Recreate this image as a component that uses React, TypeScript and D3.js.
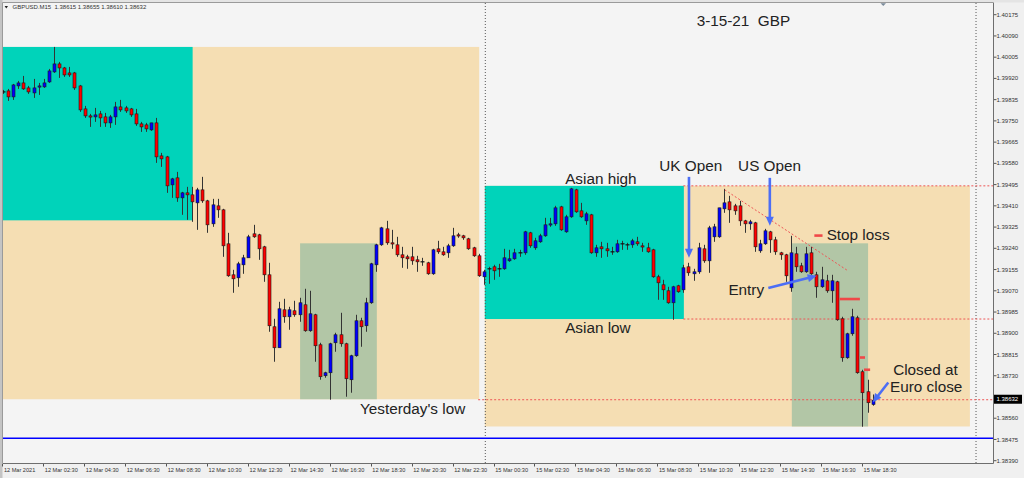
import React from "react";
import * as d3 from "d3";

// ---- GBPUSD M15 candles (12 Mar 00:30 -> 15 Mar 18:45) ----
const candleOpen = [
  1.39866,1.39870,1.39846,1.39890,1.39902,1.39882,1.39862,1.39886,1.39886,1.39906,
  1.39946,1.39978,1.39962,1.39942,1.39942,1.39890,1.39798,1.39770,1.39766,1.39778,
  1.39766,1.39742,1.39766,1.39806,1.39802,1.39798,1.39778,1.39738,1.39734,1.39714,
  1.39742,1.39610,1.39606,1.39494,1.39522,1.39442,1.39462,1.39454,1.39422,1.39474,
  1.39430,1.39338,1.39410,1.39394,1.39258,1.39134,1.39122,1.39174,1.39202,1.39298,
  1.39294,1.39246,1.39134,1.38926,1.38842,1.38994,1.38966,1.38990,1.38974,1.39014,
  1.38910,1.38974,1.38854,1.38730,1.38742,1.38862,1.38894,1.38858,1.38714,1.38810,
  1.38950,1.38930,1.39022,1.39174,1.39254,1.39318,1.39262,1.39254,1.39214,1.39206,
  1.39206,1.39194,1.39186,1.39182,1.39138,1.39238,1.39226,1.39222,1.39250,1.39294,
  1.39290,1.39278,1.39242,1.39210,1.39126,1.39158,1.39166,1.39158,1.39158,1.39190,
  1.39198,1.39222,1.39222,1.39302,1.39242,1.39266,1.39290,1.39334,1.39338,1.39406,
  1.39306,1.39366,1.39474,1.39390,1.39350,1.39374,1.39222,1.39246,1.39238,1.39226,
  1.39226,1.39258,1.39254,1.39254,1.39266,1.39250,1.39242,1.39234,1.39126,1.39094,
  1.39070,1.39022,1.39090,1.39074,1.39166,1.39138,1.39146,1.39238,1.39190,1.39286,
  1.39286,1.39398,1.39426,1.39410,1.39410,1.39350,1.39338,1.39342,1.39230,1.39258,
  1.39306,1.39274,1.39222,1.39214,1.39082,1.39218,1.39170,1.39146,1.39222,1.39134,
  1.39086,1.39110,1.39070,1.39106,1.38958,1.38802,1.38898,1.38962,1.38746,1.38666,
  1.38615,
];
const candleHigh = [
  1.39874,1.39878,1.39898,1.39910,1.39930,1.39890,1.39918,1.39902,1.39918,1.39958,
  1.40046,1.39986,1.39966,1.39966,1.39946,1.39894,1.39810,1.39778,1.39802,1.39790,
  1.39782,1.39774,1.39826,1.39834,1.39810,1.39802,1.39798,1.39746,1.39742,1.39742,
  1.39762,1.39622,1.39610,1.39522,1.39546,1.39466,1.39486,1.39486,1.39482,1.39526,
  1.39434,1.39438,1.39438,1.39398,1.39302,1.39154,1.39186,1.39214,1.39294,1.39334,
  1.39298,1.39250,1.39182,1.38958,1.39026,1.39038,1.39006,1.39030,1.39042,1.39078,
  1.39070,1.38978,1.38862,1.38746,1.38862,1.38902,1.38982,1.38862,1.38814,1.38974,
  1.38962,1.39042,1.39182,1.39258,1.39326,1.39350,1.39314,1.39286,1.39246,1.39214,
  1.39246,1.39210,1.39202,1.39186,1.39238,1.39270,1.39246,1.39258,1.39322,1.39302,
  1.39294,1.39282,1.39246,1.39218,1.39154,1.39166,1.39174,1.39178,1.39238,1.39234,
  1.39238,1.39234,1.39310,1.39306,1.39282,1.39298,1.39362,1.39362,1.39410,1.39410,
  1.39374,1.39482,1.39478,1.39422,1.39386,1.39378,1.39254,1.39266,1.39262,1.39246,
  1.39274,1.39270,1.39262,1.39278,1.39286,1.39262,1.39262,1.39238,1.39134,1.39114,
  1.39086,1.39090,1.39094,1.39174,1.39182,1.39158,1.39262,1.39254,1.39330,1.39338,
  1.39402,1.39478,1.39450,1.39418,1.39430,1.39354,1.39354,1.39346,1.39274,1.39318,
  1.39310,1.39286,1.39226,1.39218,1.39290,1.39246,1.39182,1.39246,1.39246,1.39146,
  1.39166,1.39134,1.39134,1.39110,1.38966,1.38902,1.38998,1.38970,1.38754,1.38714,
  1.38655,
];
const candleLow = [
  1.39858,1.39830,1.39834,1.39878,1.39874,1.39858,1.39842,1.39854,1.39882,1.39902,
  1.39942,1.39922,1.39926,1.39926,1.39874,1.39786,1.39762,1.39726,1.39746,1.39726,
  1.39726,1.39722,1.39734,1.39786,1.39782,1.39766,1.39730,1.39706,1.39706,1.39710,
  1.39582,1.39566,1.39462,1.39442,1.39426,1.39374,1.39354,1.39346,1.39314,1.39422,
  1.39302,1.39326,1.39362,1.39206,1.39126,1.39062,1.39086,1.39138,1.39202,1.39282,
  1.39194,1.39106,1.38906,1.38786,1.38842,1.38942,1.38914,1.38966,1.38946,1.38906,
  1.38906,1.38786,1.38714,1.38722,1.38634,1.38826,1.38846,1.38646,1.38662,1.38806,
  1.38846,1.38906,1.39018,1.39146,1.39250,1.39254,1.39238,1.39206,1.39162,1.39158,
  1.39174,1.39146,1.39170,1.39134,1.39134,1.39218,1.39210,1.39202,1.39246,1.39282,
  1.39274,1.39234,1.39206,1.39126,1.39094,1.39098,1.39114,1.39126,1.39154,1.39186,
  1.39194,1.39206,1.39214,1.39242,1.39234,1.39262,1.39286,1.39326,1.39330,1.39310,
  1.39302,1.39362,1.39382,1.39362,1.39334,1.39218,1.39206,1.39202,1.39206,1.39214,
  1.39222,1.39234,1.39234,1.39242,1.39250,1.39226,1.39222,1.39122,1.39034,1.39034,
  1.39018,1.38954,1.39062,1.39062,1.39130,1.39110,1.39138,1.39182,1.39142,1.39266,
  1.39282,1.39382,1.39342,1.39374,1.39330,1.39302,1.39314,1.39226,1.39222,1.39254,
  1.39222,1.39214,1.39194,1.39106,1.39066,1.39146,1.39142,1.39142,1.39134,1.39042,
  1.39082,1.39062,1.39022,1.38950,1.38786,1.38798,1.38890,1.38738,1.38526,1.38582,
  1.38610,
];
const candleClose = [
  1.39866,1.39846,1.39894,1.39902,1.39878,1.39866,1.39882,1.39890,1.39902,1.39950,
  1.39978,1.39962,1.39934,1.39934,1.39882,1.39794,1.39770,1.39766,1.39774,1.39762,
  1.39742,1.39766,1.39806,1.39794,1.39790,1.39774,1.39738,1.39726,1.39718,1.39742,
  1.39606,1.39598,1.39490,1.39518,1.39442,1.39462,1.39454,1.39426,1.39474,1.39430,
  1.39334,1.39414,1.39394,1.39250,1.39130,1.39118,1.39178,1.39202,1.39286,1.39286,
  1.39238,1.39134,1.38930,1.38842,1.38998,1.38966,1.38994,1.38974,1.39022,1.38910,
  1.38978,1.38850,1.38726,1.38742,1.38858,1.38894,1.38858,1.38718,1.38810,1.38950,
  1.38926,1.39022,1.39178,1.39254,1.39322,1.39262,1.39258,1.39214,1.39202,1.39198,
  1.39190,1.39186,1.39186,1.39138,1.39234,1.39226,1.39214,1.39250,1.39290,1.39290,
  1.39282,1.39238,1.39210,1.39130,1.39146,1.39158,1.39150,1.39158,1.39202,1.39198,
  1.39222,1.39222,1.39306,1.39250,1.39270,1.39290,1.39334,1.39338,1.39402,1.39314,
  1.39366,1.39478,1.39386,1.39366,1.39378,1.39222,1.39242,1.39238,1.39230,1.39226,
  1.39258,1.39258,1.39254,1.39270,1.39258,1.39246,1.39226,1.39126,1.39102,1.39074,
  1.39022,1.39086,1.39066,1.39162,1.39142,1.39146,1.39242,1.39190,1.39322,1.39326,
  1.39402,1.39422,1.39394,1.39390,1.39350,1.39338,1.39346,1.39246,1.39258,1.39310,
  1.39274,1.39226,1.39214,1.39130,1.39222,1.39166,1.39146,1.39218,1.39138,1.39086,
  1.39114,1.39070,1.39110,1.38954,1.38802,1.38898,1.38966,1.38742,1.38662,1.38622,
  1.38632,
];

// ---- axis ticks ----
const priceTicks = [
  1.40175, 1.40090, 1.40005, 1.39920, 1.39835, 1.39750, 1.39665, 1.39580, 1.39495,
  1.39410, 1.39325, 1.39240, 1.39155, 1.39070, 1.38985, 1.38900, 1.38815, 1.38730,
  1.38645, 1.38560, 1.38475, 1.38390,
];
const timeTickBars = [0, 8, 16, 24, 32, 40, 48, 56, 64, 72, 80, 88, 96, 104, 112, 120, 128, 136, 144, 152, 160, 168];
const timeTickLabels = [
  "12 Mar 2021", "12 Mar 02:30", "12 Mar 04:30", "12 Mar 06:30", "12 Mar 08:30", "12 Mar 10:30",
  "12 Mar 12:30", "12 Mar 14:30", "12 Mar 16:30", "12 Mar 18:30", "12 Mar 20:30", "12 Mar 22:30",
  "15 Mar 00:30", "15 Mar 02:30", "15 Mar 04:30", "15 Mar 06:30", "15 Mar 08:30", "15 Mar 10:30",
  "15 Mar 12:30", "15 Mar 14:30", "15 Mar 16:30", "15 Mar 18:30",
];
const separatorBars = [94.1, 190];

// ---- session boxes (bar index range, price range) ----
const zoneStart = [-3, -3, 58, 94.1, 94.1, 154.1];
const zoneEnd = [93, 37, 73, 188.9, 133, 169];
const zoneHigh = [1.40046, 1.40046, 1.3926, 1.3949, 1.3949, 1.3926];
const zoneLow = [1.38636, 1.39352, 1.38636, 1.38527, 1.38957, 1.38527];
const zoneKind = ["day", "asia", "box", "day", "asia", "box"];

// ---- levels ----
const levelPrice = [1.3949, 1.38957, 1.38634];
const levelFrom = [132.9, 132.9, 92.8];
const blueLinePrice = 1.3848;
const lastPrice = 1.38632;

// ---- annotations ----
const labelText = ["3-15-21  GBP", "Asian high", "UK Open", "US Open", "Stop loss", "Entry", "Asian low", "Yesterday's low", "Closed at", "Euro close"];
const labelBar = [135.5, 109.8, 128.2, 143.6, 160.9, 141.7, 109.8, 69.7, 173.9, 173.3];
const labelPrice = [1.40131, 1.39498, 1.39550, 1.39551, 1.39274, 1.39054, 1.38902, 1.38578, 1.38734, 1.38664];

const arrowFromBar = [134.0, 149.8, 149.5, 172.95];
const arrowFromPrice = [1.39526, 1.39522, 1.39081, 1.38703];
const arrowToBar = [134.0, 149.8, 158.96, 169.9];
const arrowToPrice = [1.39202, 1.3933, 1.3913, 1.38623];

const trendBars = [141.0, 165.0];
const trendPrices = [1.39474, 1.39151];

const markFromBar = [158.5, 163.4, 167.4, 168.2];
const markToBar = [160.1, 167.4, 168.4, 169.4];
const markPrice = [1.39291, 1.39037, 1.38803, 1.38754];

const PL = 3, PR = 993, PT = 3, PB = 463;
const FONT = "'Liberation Sans', Arial, sans-serif";

const zoneColor: Record<string, string> = { day: "#F5DEB3", asia: "#00D3BA", box: "#B2C6A6" };

export default function App() {
  const x = d3.scaleLinear().domain([0, 168]).range([3.3, 3.3 + 5.117 * 168]);
  const y = d3.scaleLinear().domain([1.40175, 1.3839]).range([14.7, 460.7]);
  const arrowColor = "#4C6EF5";
  const boxTop = y(lastPrice) - 5.5;
  const boxBot = boxTop + 9;

  const arrows = arrowFromBar.map((_, k) => {
    const x1 = x(arrowFromBar[k]), y1 = y(arrowFromPrice[k]);
    const x2 = x(arrowToBar[k]), y2 = y(arrowToPrice[k]);
    const dx = x2 - x1, dy = y2 - y1;
    const len = Math.hypot(dx, dy);
    const ux = dx / len, uy = dy / len;
    const hl = 9, hw = 4;
    const bx = x2 - ux * hl, by = y2 - uy * hl;
    const head = `${x2},${y2} ${bx - uy * hw},${by + ux * hw} ${bx + uy * hw},${by - ux * hw}`;
    return (
      <g key={"a" + k}>
        <line x1={x1} y1={y1} x2={bx + ux * 1} y2={by + uy * 1} stroke={arrowColor} strokeWidth={2.6} />
        <polygon points={head} fill={arrowColor} />
      </g>
    );
  });

  return (
    <div style={{ position: "absolute", left: 0, top: 0 }}>
      <svg width={1024} height={478} style={{ display: "block" }} fontFamily={FONT}>
        <defs>
          <clipPath id="plotClip">
            <rect x={PL} y={PT} width={PR - PL} height={PB - PT} />
          </clipPath>
        </defs>
        <rect x={0} y={0} width={1024} height={478} fill="#F0F0F0" />
        <rect x={0} y={0} width={1024} height={2.5} fill="#E4E4E4" />
        <rect x={0} y={0} width={2.5} height={478} fill="#C4C4C4" />
        <rect x={PL} y={PT} width={PR - PL} height={PB - PT} fill="#F4F4F4" />

        <g clipPath="url(#plotClip)">
          {zoneStart.map((s, k) => (
            <rect
              key={"z" + k}
              x={x(s)}
              y={y(zoneHigh[k])}
              width={x(zoneEnd[k]) - x(s)}
              height={y(zoneLow[k]) - y(zoneHigh[k])}
              fill={zoneColor[zoneKind[k]]}
            />
          ))}

          {separatorBars.map((b, k) => (
            <line key={"s" + k} x1={x(b) + 0.5} x2={x(b) + 0.5} y1={PT} y2={PB} stroke="#555" strokeWidth={1} strokeDasharray="1 2" />
          ))}

          {levelPrice.map((p, k) => (
            <line key={"l" + k} x1={x(levelFrom[k])} x2={PR} y1={y(p)} y2={y(p)} stroke="#EE5555" strokeWidth={1} strokeDasharray="2 2" />
          ))}
          <line x1={PL} x2={PR} y1={y(blueLinePrice)} y2={y(blueLinePrice)} stroke="#0000FF" strokeWidth={1.6} />

          {candleOpen.map((o, i) => {
            const h = candleHigh[i], l = candleLow[i], c = candleClose[i];
            const cx = Math.round(x(i) - 0.5) + 0.5;
            const top = y(Math.max(o, c));
            const bot = y(Math.min(o, c));
            const doji = o === c;
            return (
              <g key={"c" + i}>
                <line x1={cx} x2={cx} y1={y(h)} y2={y(l)} stroke="#333" strokeWidth={1} />
                {doji ? (
                  <line x1={cx - 2} x2={cx + 2} y1={top} y2={top} stroke="#111" strokeWidth={1.2} />
                ) : (
                  <rect
                    x={cx - 1.5}
                    y={top}
                    width={3}
                    height={Math.max(bot - top, 1.2)}
                    fill={c > o ? "#0000FF" : "#FF0000"}
                    stroke="#1a1a1a"
                    strokeWidth={0.6}
                  />
                )}
              </g>
            );
          })}

          <line x1={x(trendBars[0])} y1={y(trendPrices[0])} x2={x(trendBars[1])} y2={y(trendPrices[1])} stroke="#EE5555" strokeWidth={1} strokeDasharray="2 2" />

          {markPrice.map((p, k) => (
            <line key={"m" + k} x1={x(markFromBar[k])} x2={x(markToBar[k])} y1={y(p)} y2={y(p)} stroke="#F04848" strokeWidth={2.6} />
          ))}

          {arrows}
        </g>

        {labelText.map((t, k) => (
          <text key={"t" + k} x={x(labelBar[k])} y={y(labelPrice[k])} fontSize={15.3} fill="#222" style={{ whiteSpace: "pre" }}>
            {t}
          </text>
        ))}

        {/* frame */}
        <line x1={PL - 0.5} x2={PR} y1={PT - 0.5} y2={PT - 0.5} stroke="#9A9A9A" strokeWidth={1} />
        <line x1={PL - 0.5} x2={PL - 0.5} y1={PT - 0.5} y2={PB} stroke="#9A9A9A" strokeWidth={1} />
        <line x1={PR + 0.5} x2={PR + 0.5} y1={PT - 0.5} y2={PB + 0.5} stroke="#6E6E6E" strokeWidth={1} />
        <line x1={PL - 0.5} x2={PR + 0.5} y1={PB + 0.5} y2={PB + 0.5} stroke="#6E6E6E" strokeWidth={1} />

        {/* chart shift marker */}
        <polygon points={`880.5,3.2 886,3.2 883.25,6`} fill="#7A8A9A" />

        {/* header */}
        <polygon points="4.6,6 8,6 6.3,8.6" fill="#222" />
        <text x={12.5} y={9.4} fontSize={6} fill="#333" style={{ whiteSpace: "pre" }}>
          GBPUSD.M15  1.38615 1.38655 1.38610 1.38632
        </text>

        {/* price axis */}
        {priceTicks.map((p, k) => {
          const py = y(p);
          const hidden = py + 3 > boxTop && py - 3 < boxBot;
          return (
            <g key={"p" + k}>
              <line x1={PR + 1} x2={PR + 3.5} y1={py} y2={py} stroke="#555" strokeWidth={1} />
              {!hidden && (
                <text x={996.5} y={py} dy="0.34em" fontSize={6} fill="#333">
                  {p.toFixed(5)}
                </text>
              )}
            </g>
          );
        })}
        <rect x={994} y={boxTop} width={28} height={9} fill="#000" />
        <text x={996.5} y={y(lastPrice) - 1} dy="0.34em" fontSize={6} fill="#fff">
          {lastPrice.toFixed(5)}
        </text>

        {/* time axis */}
        {timeTickBars.map((b, k) => (
          <g key={"x" + k}>
            <line x1={Math.round(x(b)) - 0.5} x2={Math.round(x(b)) - 0.5} y1={PB + 1} y2={PB + 3.5} stroke="#555" strokeWidth={1} />
            <text x={x(b) + 0.6} y={472} fontSize={5.6} fill="#333">
              {timeTickLabels[k]}
            </text>
          </g>
        ))}
      </svg>
    </div>
  );
}
